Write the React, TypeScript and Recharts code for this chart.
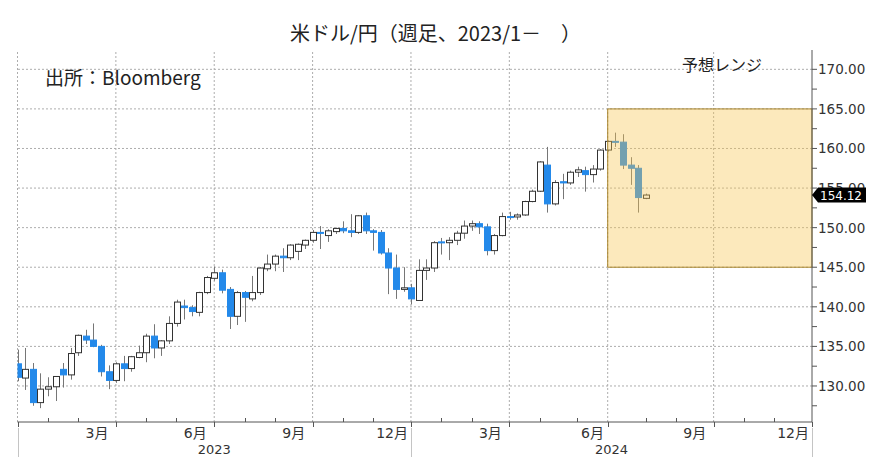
import React from 'react'
import { ComposedChart, Bar, XAxis, YAxis, ReferenceLine, ReferenceArea } from 'recharts'

// weekly candles, week starting Monday
const WEEK_STARTS = [
  '2022-12-26', '2023-01-02', '2023-01-09', '2023-01-16', '2023-01-23', '2023-01-30', '2023-02-06', '2023-02-13', '2023-02-20', '2023-02-27',
  '2023-03-06', '2023-03-13', '2023-03-20', '2023-03-27', '2023-04-03', '2023-04-10', '2023-04-17', '2023-04-24', '2023-05-01', '2023-05-08',
  '2023-05-15', '2023-05-22', '2023-05-29', '2023-06-05', '2023-06-12', '2023-06-19', '2023-06-26', '2023-07-03', '2023-07-10', '2023-07-17',
  '2023-07-24', '2023-07-31', '2023-08-07', '2023-08-14', '2023-08-21', '2023-08-28', '2023-09-04', '2023-09-11', '2023-09-18', '2023-09-25',
  '2023-10-02', '2023-10-09', '2023-10-16', '2023-10-23', '2023-10-30', '2023-11-06', '2023-11-13', '2023-11-20', '2023-11-27', '2023-12-04',
  '2023-12-11', '2023-12-18', '2023-12-25', '2024-01-01', '2024-01-08', '2024-01-15', '2024-01-22', '2024-01-29', '2024-02-05', '2024-02-12',
  '2024-02-19', '2024-02-26', '2024-03-04', '2024-03-11', '2024-03-18', '2024-03-25', '2024-04-01', '2024-04-08', '2024-04-15', '2024-04-22',
  '2024-04-29', '2024-05-06', '2024-05-13', '2024-05-20', '2024-05-27', '2024-06-03', '2024-06-10', '2024-06-17', '2024-06-24', '2024-07-01',
  '2024-07-08', '2024-07-15', '2024-07-22', '2024-07-29',
]

const OPENS = [
  132.8, 131.0, 132.1, 127.9, 129.6, 129.9, 132.1, 131.4, 134.2, 136.3,
  135.8, 135.0, 131.8, 130.7, 132.8, 132.2, 133.6, 134.2, 136.3, 134.8,
  135.7, 137.9, 140.1, 139.9, 139.3, 141.8, 143.6, 144.3, 142.2, 138.8,
  141.8, 141.0, 141.8, 144.8, 145.4, 146.4, 146.2, 147.0, 147.8, 148.4,
  149.4, 149.0, 149.5, 149.9, 149.6, 149.4, 151.5, 149.6, 149.4, 146.8,
  144.9, 142.2, 142.4, 140.8, 144.6, 144.9, 148.2, 148.1, 148.4, 149.3,
  150.2, 150.5, 150.1, 147.1, 149.0, 151.4, 151.35, 151.6, 153.3, 154.6,
  157.9, 153.0, 155.8, 155.65, 157.0, 157.2, 156.7, 157.4, 159.8, 160.9,
  160.8, 157.9, 157.5, 153.7,
]

const HIGHS = [
  134.6, 134.8, 132.9, 131.6, 131.1, 131.2, 132.9, 134.8, 136.5, 137.1,
  137.9, 135.2, 132.6, 133.0, 133.8, 133.8, 135.1, 136.6, 137.8, 135.8,
  138.8, 140.9, 140.9, 140.2, 141.9, 143.9, 145.1, 144.7, 142.5, 142.0,
  142.0, 143.9, 145.0, 146.6, 146.6, 147.4, 147.9, 148.0, 148.5, 149.7,
  150.2, 149.8, 150.0, 150.8, 151.7, 151.6, 151.9, 149.8, 149.7, 147.4,
  146.6, 145.0, 142.9, 146.0, 146.0, 148.3, 148.7, 148.8, 149.6, 150.9,
  150.9, 150.8, 150.5, 149.2, 151.9, 152.0, 151.8, 153.4, 154.8, 158.4,
  160.2, 156.0, 156.8, 157.2, 157.7, 157.7, 157.9, 159.9, 161.0, 162.0,
  161.8, 158.9, 157.9, 154.3,
]

const LOWS = [
  130.6, 129.5, 127.5, 127.2, 128.7, 128.1, 129.8, 130.8, 133.8, 135.3,
  134.9, 131.2, 129.6, 130.4, 130.6, 131.8, 133.5, 133.0, 133.5, 133.8,
  135.3, 137.5, 138.4, 138.8, 138.8, 141.6, 143.3, 141.7, 137.2, 137.7,
  138.1, 140.7, 141.5, 144.5, 144.5, 144.4, 145.9, 145.9, 147.3, 148.1,
  147.3, 148.2, 149.2, 149.3, 148.8, 149.2, 149.2, 147.1, 146.6, 141.6,
  141.0, 141.9, 140.3, 140.8, 143.4, 144.4, 146.6, 145.9, 147.8, 148.6,
  149.6, 149.2, 146.5, 146.6, 148.9, 151.0, 151.0, 151.5, 153.2, 154.5,
  151.9, 152.8, 153.6, 155.4, 156.4, 154.55, 155.7, 157.2, 159.6, 160.2,
  157.4, 155.4, 151.9, 153.6,
]

const CLOSES = [
  131.1, 132.1, 127.9, 129.6, 129.9, 131.2, 131.4, 134.1, 136.4, 135.8,
  135.0, 131.8, 130.7, 132.8, 132.2, 133.7, 134.2, 136.3, 134.8, 135.7,
  137.9, 140.6, 139.9, 139.4, 141.8, 143.7, 144.3, 142.1, 138.8, 141.8,
  141.2, 141.8, 144.9, 145.4, 146.4, 146.2, 147.8, 147.9, 148.4, 149.4,
  149.3, 149.6, 149.9, 149.6, 149.4, 151.5, 149.6, 149.4, 146.8, 144.9,
  142.2, 142.4, 141.0, 144.6, 144.9, 148.1, 148.1, 148.4, 149.3, 150.2,
  150.5, 150.1, 147.1, 149.0, 151.4, 151.35, 151.6, 153.3, 154.6, 158.3,
  153.0, 155.7, 155.65, 157.0, 157.3, 156.7, 157.4, 159.8, 160.9, 160.8,
  157.9, 157.5, 153.8, 154.12,
]

const LAST_PRICE = 154.12

// y axis
const Y_MAJOR = [130, 135, 140, 145, 150, 155, 160, 165, 170]
const Y_MINOR = [127.5, 132.5, 137.5, 142.5, 147.5, 152.5, 157.5, 162.5, 167.5]

// x axis, in week index units
const MONTH_ENDS = [0, 4, 8, 13, 17, 21, 26, 30, 34, 39, 43, 47, 52, 56, 60, 65, 69, 74, 78, 83, 87, 92, 96, 100, 105]
const QUARTER_ENDS = [0, 13, 26, 39, 52, 65, 78, 92, 105]
const YEAR_ENDS = [0, 52, 105]
const MONTH_LABEL_POS = [10.5, 23.5, 36.5, 49.5, 62.5, 76, 89.5, 102.5]
const MONTH_LABEL_TEXT = ['3月', '6月', '9月', '12月', '3月', '6月', '9月', '12月']
const YEAR_LABEL_POS = [26, 78.5]
const YEAR_LABEL_TEXT = ['2023', '2024']

// forecast range box
const RANGE_FROM = 78
const RANGE_TO = 105
const RANGE_LOW = 145
const RANGE_HIGH = 165

const BLUE = '#2389ea'
const AXIS = '#555'
const GRID = '#adadad'
const FONT = "'DejaVu Sans', 'Noto Sans CJK JP', sans-serif"

const data = WEEK_STARTS.map((week, i) => ({
  i,
  week,
  open: OPENS[i],
  high: HIGHS[i],
  low: LOWS[i],
  close: CLOSES[i],
  range: [LOWS[i], HIGHS[i]],
}))

const X_TICKS = Array.from(new Set([...MONTH_ENDS, ...MONTH_LABEL_POS, ...YEAR_LABEL_POS])).sort((a, b) => a - b)

function Candle(props: any) {
  const { x, y, width, height, payload } = props
  if (x == null || y == null || !payload) return null
  const { open, close, high, low } = payload
  const top = Math.min(y, y + height)
  const h = Math.abs(height)
  const ppu = h / (high - low)
  const cx = Math.round(x + width / 2) + 0.5
  const up = close >= open
  const bodyTop = top + (high - Math.max(open, close)) * ppu
  const bodyH = Math.max(1, Math.abs(open - close) * ppu)
  return (
    <g>
      <line x1={cx} x2={cx} y1={top} y2={top + h} stroke="#767676" strokeWidth={1} />
      <rect
        x={cx - 3}
        y={bodyTop}
        width={6}
        height={bodyH}
        fill={up ? '#fff' : BLUE}
        stroke={up ? '#333' : BLUE}
        strokeWidth={1}
      />
    </g>
  )
}

function XTick(props: any) {
  const { x, y, payload } = props
  const v = payload.value
  const px = Math.round(x) + 0.5
  const mi = MONTH_LABEL_POS.indexOf(v)
  const yi = YEAR_LABEL_POS.indexOf(v)
  return (
    <g>
      {QUARTER_ENDS.includes(v) && <line x1={px} x2={px} y1={y} y2={y + 5} stroke={AXIS} />}
      {!QUARTER_ENDS.includes(v) && MONTH_ENDS.includes(v) && (
        <line x1={px} x2={px} y1={y - 4} y2={y} stroke={AXIS} />
      )}
      {YEAR_ENDS.includes(v) && <line x1={px} x2={px} y1={y + 6} y2={y + 35} stroke="#c4c4c4" />}
      {mi >= 0 && (
        <text x={x} y={y + 15.5} textAnchor="middle" fontSize={14} fontFamily={FONT} fill="#333">
          {MONTH_LABEL_TEXT[mi]}
        </text>
      )}
      {yi >= 0 && (
        <text x={x} y={y + 31.5} textAnchor="middle" fontSize={13} fontFamily={FONT} fill="#333">
          {YEAR_LABEL_TEXT[yi]}
        </text>
      )}
    </g>
  )
}

function YTick(props: any) {
  const { x, y, payload } = props
  const v = payload.value
  if (v === LAST_PRICE) {
    const tip = x - 6
    return (
      <g>
        <polygon
          points={`${tip},${y} ${tip + 6},${y - 7.5} ${tip + 54},${y - 7.5} ${tip + 54},${y + 7.5} ${tip + 6},${y + 7.5}`}
          fill="#000"
        />
        <text x={x + 2} y={y + 4.5} fontSize={12} fontFamily={FONT} fill="#fff">
          {LAST_PRICE.toFixed(2)}
        </text>
      </g>
    )
  }
  if (Y_MAJOR.includes(v)) {
    return (
      <text x={x} y={y + 5} fontSize={13.5} fontFamily={FONT} fill="#333">
        {v.toFixed(2)}
      </text>
    )
  }
  return <g />
}

export default function App() {
  return (
    <div style={{ position: 'absolute', left: 0, top: 0, width: 871, height: 463, background: '#fff' }}>
      <ComposedChart
        width={871}
        height={463}
        data={data}
        margin={{ top: 50, right: 0, bottom: 0, left: 17.5 }}
      >
        <XAxis
          dataKey="i"
          type="number"
          domain={[0, 105]}
          allowDataOverflow
          ticks={X_TICKS}
          interval={0}
          tickLine={false}
          tickSize={0}
          tickMargin={0}
          axisLine={{ stroke: AXIS }}
          tick={XTick}
          height={41}
        />
        <YAxis
          orientation="right"
          type="number"
          domain={[125.45, 172.44]}
          allowDataOverflow
          ticks={[...Y_MINOR, ...Y_MAJOR, LAST_PRICE]}
          interval={0}
          tickSize={5}
          tickMargin={1}
          tickLine={{ stroke: AXIS }}
          axisLine={{ stroke: AXIS }}
          tick={YTick}
          width={59}
        />
        {Y_MAJOR.map((v) => (
          <ReferenceLine key={`h${v}`} y={v} stroke={GRID} strokeDasharray="2 2" zIndex={-100} />
        ))}
        {QUARTER_ENDS.slice(0, -1).map((v) => (
          <ReferenceLine key={`v${v}`} x={v} stroke={GRID} strokeDasharray="2 2" zIndex={-100} />
        ))}
        <Bar dataKey="range" barSize={6} shape={Candle} isAnimationActive={false} />
        <ReferenceArea
          x1={RANGE_FROM}
          x2={RANGE_TO}
          y1={RANGE_LOW}
          y2={RANGE_HIGH}
          fill="#f7c550"
          fillOpacity={0.38}
          stroke="#a8852f"
          strokeOpacity={1}
          zIndex={350}
        />
      </ComposedChart>
      <div
        style={{
          position: 'absolute', left: 0, top: 21, width: 871, textAlign: 'center',
          fontFamily: "'Noto Sans CJK JP', sans-serif", fontSize: 20, lineHeight: '24px', color: '#222',
        }}
      >
        米ドル/円（週足、2023/1－　）
      </div>
      <div
        style={{
          position: 'absolute', left: 45, top: 65, fontFamily: "'Noto Sans CJK JP', sans-serif",
          fontSize: 19, lineHeight: '24px', color: '#222', whiteSpace: 'nowrap',
        }}
      >
        出所：Bloomberg
      </div>
      <div
        style={{
          position: 'absolute', left: 682, top: 53, fontFamily: "'Noto Sans CJK JP', sans-serif",
          fontSize: 16, lineHeight: '22px', color: '#222', whiteSpace: 'nowrap',
        }}
      >
        予想レンジ
      </div>
    </div>
  )
}
